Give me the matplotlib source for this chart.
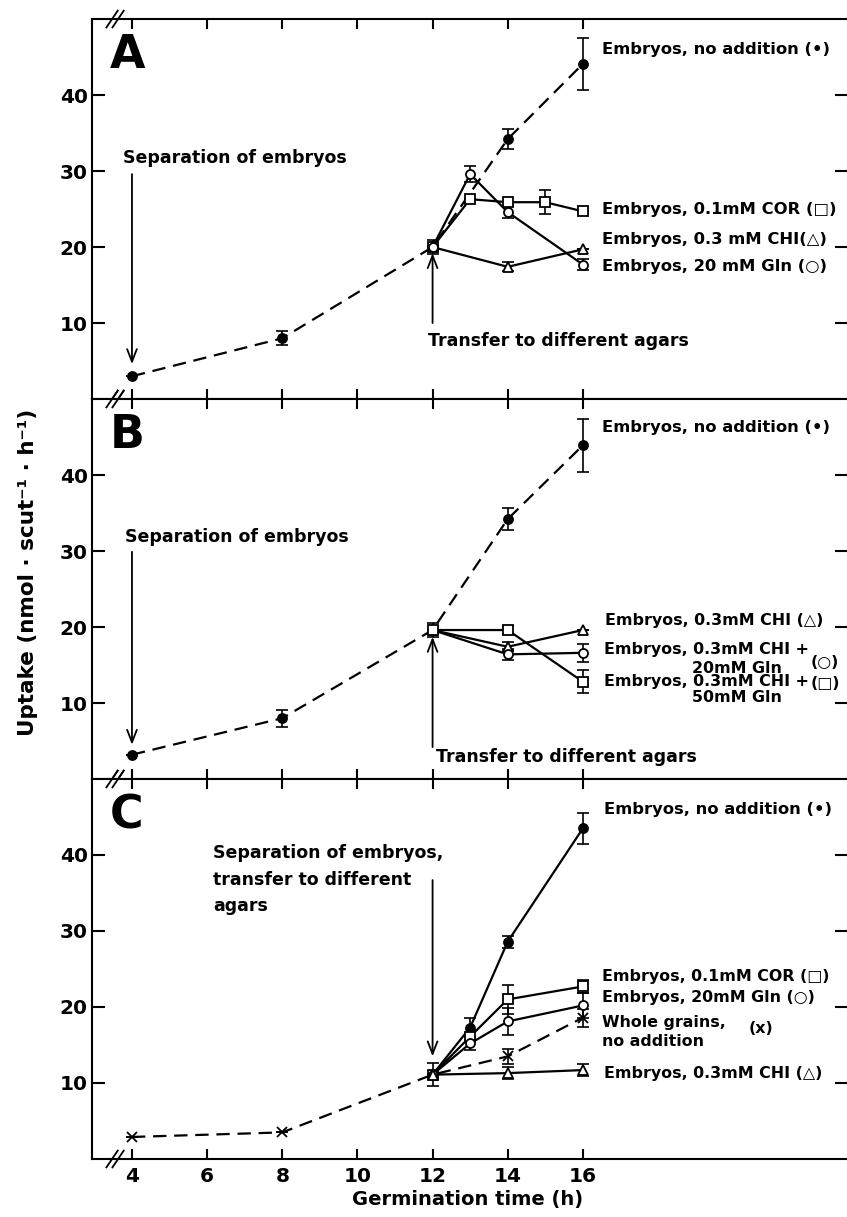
import matplotlib.pyplot as plt
import numpy as np

plt.rcParams['font.family'] = ['DejaVu Sans']
plt.rcParams['font.weight'] = 'bold'

# ---- panel A ----
a_base_t = [4, 8, 12, 14, 16]
a_base_y = [3.0, 8.0, 20.0, 34.2, 44.1]
a_base_err = [0, 0.9, 0.9, 1.3, 3.4]
a_cor_t = [12, 13, 14, 15, 16]
a_cor_y = [20.0, 26.3, 25.9, 25.9, 24.7]
a_cor_err = [0, 0, 0, 1.6, 0]
a_chi_t = [12, 14, 16]
a_chi_y = [20.0, 17.4, 19.7]
a_chi_err = [0, 0.6, 0]
a_gln_t = [12, 13, 14, 16]
a_gln_y = [20.0, 29.6, 24.6, 17.7]
a_gln_err = [0, 1.0, 0.8, 0.7]

# ---- panel B ----
b_base_t = [4, 8, 12, 14, 16]
b_base_y = [3.2, 8.0, 19.6, 34.2, 43.9]
b_base_err = [0, 1.1, 0.9, 1.5, 3.5]
b_chi_t = [12, 14, 16]
b_chi_y = [19.6, 17.4, 19.6]
b_chi_err = [0, 0.6, 0]
b_gln20_t = [12, 14, 16]
b_gln20_y = [19.6, 16.4, 16.6]
b_gln20_err = [0, 0.7, 1.2]
b_gln50_t = [12, 14, 16]
b_gln50_y = [19.6, 19.6, 12.8]
b_gln50_err = [0, 0.5, 1.5]

# ---- panel C ----
c_grain_t = [4, 8, 12, 14, 16]
c_grain_y = [2.9, 3.5, 11.1, 13.5, 18.6]
c_grain_err = [0, 0, 1.5, 1.0, 1.2]
c_base_t = [12, 13, 14, 16]
c_base_y = [11.1, 17.3, 28.6, 43.5]
c_base_err = [0, 1.2, 0.8, 2.0]
c_cor_t = [12, 13, 14, 16]
c_cor_y = [11.1, 16.1, 21.0, 22.7]
c_cor_err = [0, 0, 1.9, 0.9]
c_gln_t = [12, 13, 14, 16]
c_gln_y = [11.1, 15.2, 18.1, 20.2]
c_gln_err = [0, 0.8, 1.8, 1.7]
c_chi_t = [12, 14, 16]
c_chi_y = [11.1, 11.3, 11.7]
c_chi_err = [0, 0.8, 0.8]

x_ticks = [4, 6, 8, 10, 12, 14, 16]
y_ticks = [10, 20, 30, 40]

LW = 1.6
FS = 12.5    # notes on the left
FR = 11.8    # series labels on the right
FB = 11.4    # condensed labels of panel B


def series(ax, t, y, err, marker, filled=False, dashed=False, ms=7):
    ax.errorbar(t, y, yerr=err, fmt='none', ecolor='black', elinewidth=1.2,
                capsize=4.5, capthick=1.2, zorder=2)
    ax.plot(t, y, color='black', lw=LW, ls=(0, (6, 3.5)) if dashed else '-',
            marker=marker, ms=ms, mec='black', mew=1.3,
            mfc='black' if filled else 'white', zorder=3)


def arrow(ax, tail, tip):
    ax.annotate('', xy=tip, xytext=tail,
                arrowprops=dict(arrowstyle='->,head_length=0.9,head_width=0.35',
                                lw=1.3, color='black', shrinkA=0, shrinkB=0))


def brk(ax, yfrac):
    tr = ax.get_xaxis_transform()
    for xc in (3.47, 3.63):
        ax.plot([xc - 0.15, xc + 0.15], [yfrac - 0.022, yfrac + 0.022],
                color='black', lw=1.3, transform=tr, clip_on=False, zorder=5)


fig = plt.figure(figsize=(8.47, 12.17), dpi=100)
H = 380 / 1217
L = 92 / 847
axA = fig.add_axes([L, 0.6721, 1 - L, H])
axB = fig.add_axes([L, 0.3599, 1 - L, H], sharex=axA)
axC = fig.add_axes([L, 0.04766, 1 - L, H], sharex=axA)

for ax, letter in ((axA, 'A'), (axB, 'B'), (axC, 'C')):
    ax.set_xlim(2.936, 23.03)
    ax.set_ylim(0, 50)
    ax.set_xticks(x_ticks)
    ax.set_yticks(y_ticks)
    ax.spines['right'].set_visible(False)
    for s in ('left', 'top', 'bottom'):
        ax.spines[s].set_linewidth(1.5)
    ax.tick_params(axis='x', direction='in', top=True, bottom=True,
                   length=7, width=1.5, labelsize=14.5, pad=6)
    ax.tick_params(axis='y', direction='in', left=True, right=True,
                   length=9, width=1.5, labelsize=14.5, pad=3)
    ax.text(3.41, 43.5, letter, fontsize=33, fontweight='bold')
    brk(ax, 1.0)
    brk(ax, 0.0)

axA.tick_params(labelbottom=False)
axB.tick_params(labelbottom=False)

# panel A
series(axA, a_base_t, a_base_y, a_base_err, 'o', filled=True, dashed=True, ms=6.5)
series(axA, a_cor_t, a_cor_y, a_cor_err, 's')
series(axA, a_chi_t, a_chi_y, a_chi_err, '^')
series(axA, a_gln_t, a_gln_y, a_gln_err, 'o', ms=6.5)
axA.text(3.76, 31.7, 'Separation of embryos', fontsize=FS, va='center')
arrow(axA, (4, 29.6), (4, 4.6))
axA.text(11.87, 7.6, 'Transfer to different agars', fontsize=FS, va='center')
arrow(axA, (12, 10.0), (12, 19.2))
axA.text(16.5, 46.05, 'Embryos, no addition (•)', fontsize=FR, va='center')
axA.text(16.5, 25.0, 'Embryos, 0.1mM COR (□)', fontsize=FR, va='center')
axA.text(16.5, 21.05, 'Embryos, 0.3 mM CHI(△)', fontsize=FR, va='center')
axA.text(16.5, 17.5, 'Embryos, 20 mM Gln (○)', fontsize=FR, va='center')

# panel B
series(axB, b_base_t, b_base_y, b_base_err, 'o', filled=True, dashed=True, ms=6.5)
series(axB, b_chi_t, b_chi_y, b_chi_err, '^')
series(axB, b_gln20_t, b_gln20_y, b_gln20_err, 'o', ms=6.5)
series(axB, b_gln50_t, b_gln50_y, b_gln50_err, 's')
axB.text(3.81, 31.8, 'Separation of embryos', fontsize=FS, va='center')
arrow(axB, (4, 29.9), (4, 4.5))
axB.text(12.08, 2.9, 'Transfer to different agars', fontsize=FS, va='center')
arrow(axB, (12, 4.2), (12, 18.7))
axB.text(16.5, 46.2, 'Embryos, no addition (•)', fontsize=FR, va='center')
axB.text(16.58, 20.8, 'Embryos, 0.3mM CHI (△)', fontsize=FB, va='center')
axB.text(16.55, 17.0, 'Embryos, 0.3mM CHI +', fontsize=FB, va='center')
axB.text(18.9, 14.6, '20mM Gln', fontsize=FB, va='center')
axB.text(22.05, 15.3, '(○)', fontsize=FB, va='center')
axB.text(16.55, 12.8, 'Embryos, 0.3mM CHI +', fontsize=FB, va='center')
axB.text(18.9, 10.7, '50mM Gln', fontsize=FB, va='center')
axB.text(22.05, 12.6, '(□)', fontsize=FB, va='center')

# panel C
series(axC, c_grain_t, c_grain_y, c_grain_err, 'x', dashed=True, ms=7)
series(axC, c_base_t, c_base_y, c_base_err, 'o', filled=True, ms=6.5)
series(axC, c_cor_t, c_cor_y, c_cor_err, 's')
series(axC, c_gln_t, c_gln_y, c_gln_err, 'o', ms=6.5)
series(axC, c_chi_t, c_chi_y, c_chi_err, '^')
axC.text(6.15, 41.4, 'Separation of embryos,\ntransfer to different\nagars',
         fontsize=FS, va='top', linespacing=1.6)
arrow(axC, (12, 36.7), (12, 13.5))
axC.text(16.55, 46.0, 'Embryos, no addition (•)', fontsize=FR, va='center')
axC.text(16.5, 24.0, 'Embryos, 0.1mM COR (□)', fontsize=FB, va='center')
axC.text(16.5, 21.2, 'Embryos, 20mM Gln (○)', fontsize=FB, va='center')
axC.text(16.5, 18.0, 'Whole grains,', fontsize=FB, va='center')
axC.text(16.5, 15.5, 'no addition', fontsize=FB, va='center')
axC.text(20.4, 17.2, '(x)', fontsize=FB, va='center')
axC.text(16.55, 11.3, 'Embryos, 0.3mM CHI (△)', fontsize=FB, va='center')

fig.text(28 / 847, 0.530, 'Uptake (nmol · scut⁻¹ · h⁻¹)', rotation=90,
         ha='center', va='center', fontsize=15.5, fontweight='bold')
fig.text(468 / 847, 1 - 1200 / 1217, 'Germination time (h)',
         ha='center', va='center', fontsize=14, fontweight='bold')

fig.savefig('out.png', dpi=100)
